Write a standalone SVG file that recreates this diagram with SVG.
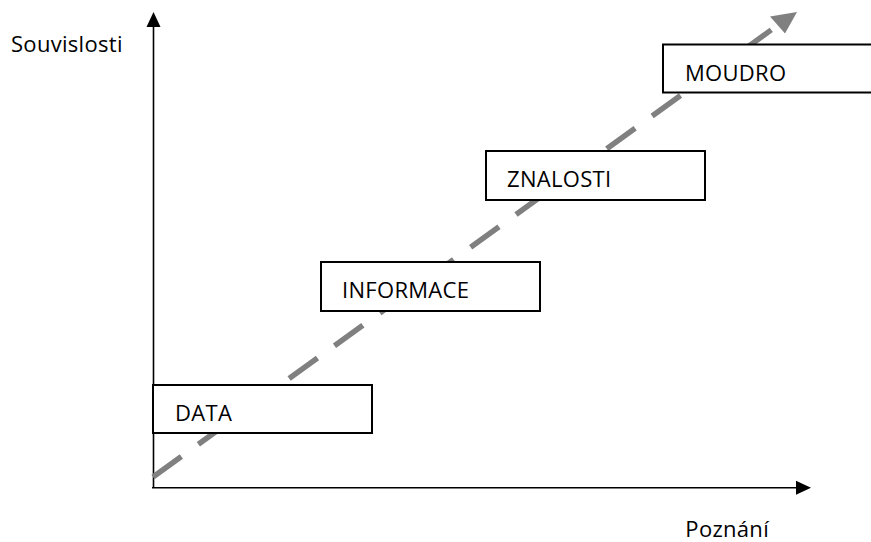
<svg xmlns="http://www.w3.org/2000/svg" width="871" height="542" viewBox="0 0 871 542">
  <style>
    .label { font-family: "Open Sans", "Noto Sans", "Liberation Sans", sans-serif; font-size: 22px; fill: #000; letter-spacing: 0.3px; }
    .box { fill: #fff; stroke: #000; stroke-width: 2; }
    .axis { fill: none; stroke: #000; stroke-width: 1.6; }
    .trend { fill: none; stroke: #808080; stroke-width: 5.5; stroke-dasharray: 35 21; }
  </style>
  <defs>
    <marker id="axisHead" markerUnits="userSpaceOnUse" markerWidth="16" markerHeight="16" viewBox="0 0 16 16" refX="1" refY="8" orient="auto">
      <path d="M0,1 L15,8 L0,15 Z" fill="#000"/>
    </marker>
  </defs>

  <rect width="871" height="542" fill="#fff"/>

  <!-- axes and the rising trend arrow -->
  <g id="connectors">
    <path class="axis" d="M153.5,488 L153.5,26" marker-end="url(#axisHead)"/>
    <path class="axis" d="M152,487.7 L797,487.7" marker-end="url(#axisHead)"/>
    <path class="trend" d="M153,477 L778,25"/>
    <polygon points="797,12 770,16.5 785,33.5" fill="#808080"/>
  </g>

  <!-- axis captions -->
  <g id="axis-y-label">
    <text class="label" x="11" y="52">Souvislosti</text>
  </g>
  <g id="axis-x-label">
    <text class="label" x="769" y="537" text-anchor="end">Poznání</text>
  </g>

  <!-- stages -->
  <g id="data">
    <rect class="box" x="153" y="385" width="219" height="48"/>
    <text class="label" x="175" y="421">DATA</text>
  </g>
  <g id="informace">
    <rect class="box" x="321" y="262" width="219" height="49"/>
    <text class="label" x="342" y="298">INFORMACE</text>
  </g>
  <g id="znalosti">
    <rect class="box" x="486" y="151" width="219" height="49"/>
    <text class="label" x="507" y="187">ZNALOSTI</text>
  </g>
  <g id="moudro">
    <rect class="box" x="663" y="44.5" width="230" height="48"/>
    <text class="label" x="685" y="81">MOUDRO</text>
  </g>
</svg>
